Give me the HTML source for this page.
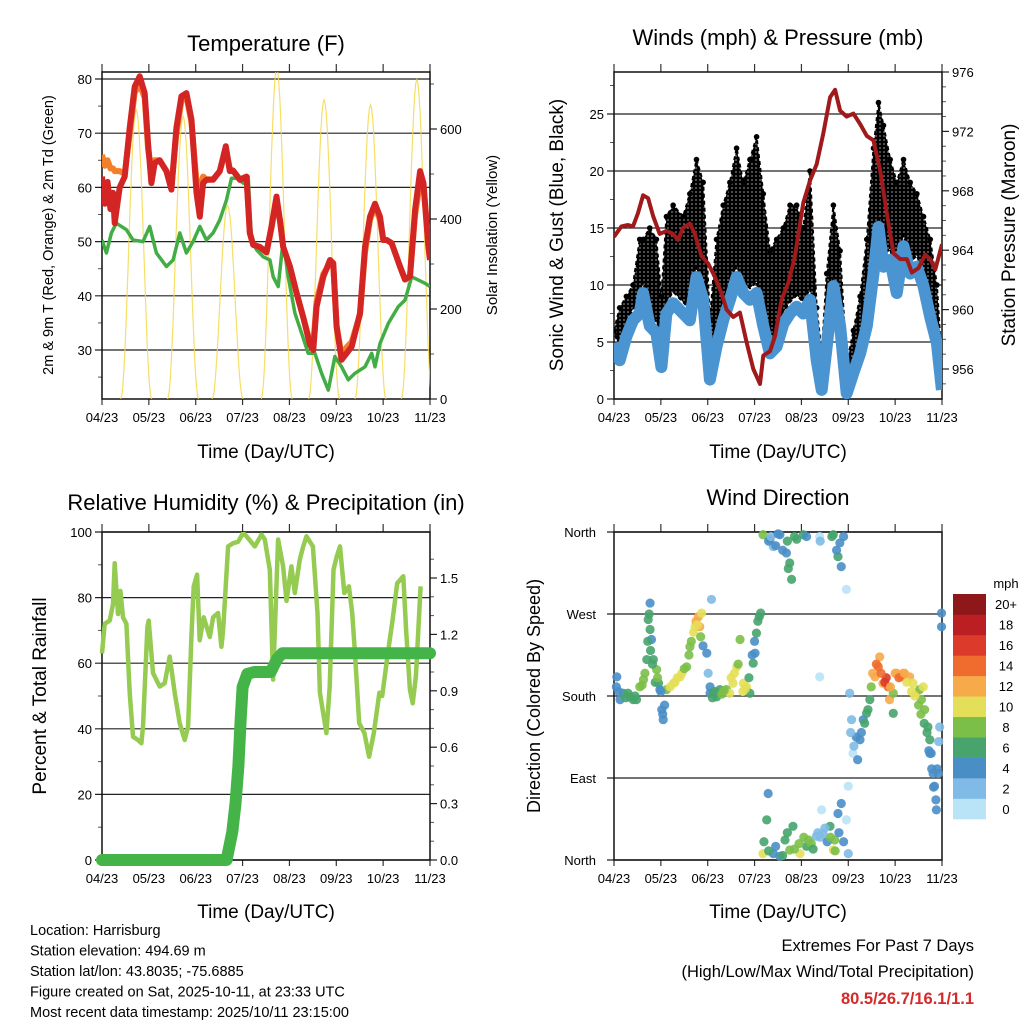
<!DOCTYPE html>
<html><head><meta charset="utf-8"><style>
body{margin:0;background:#fff}
svg{display:block;font-family:"Liberation Sans",Arial,sans-serif}
</style></head><body>
<svg id="c" width="1024" height="1024" viewBox="0 0 1024 1024" xmlns="http://www.w3.org/2000/svg">
<defs>
<pattern id="dots" width="4" height="4" patternUnits="userSpaceOnUse"><rect width="4" height="4" fill="#fff"/><circle cx="2" cy="2" r="2.3" fill="#000"/></pattern>
</defs>
<rect width="1024" height="1024" fill="#fff"/>
</svg>
<script>
// ---- Temperature panel data (day offset 0..7) ----
const tTime=[0,.06,.12,.18,.235,.27,.377,.484,.591,.698,.805,.912,.983,1.054,1.125,1.232,1.375,1.481,1.588,1.695,1.802,1.909,2.016,2.087,2.158,2.229,2.372,2.514,2.642,2.728,2.799,2.942,3.084,3.155,3.226,3.369,3.511,3.618,3.725,3.796,3.868,4.01,4.152,4.295,4.437,4.509,4.58,4.722,4.865,4.936,5.007,5.114,5.221,5.328,5.506,5.613,5.719,5.826,5.933,6.004,6.075,6.182,6.36,6.467,6.574,6.681,6.788,6.859,6.966,7];
const tempRed=[62,57,61,56,59,53.4,60,62,71,78.6,80.5,77.4,68,60.8,64.5,65,63,59.6,71,76.8,77.4,72.5,59,54.6,60.8,61.4,61.4,63,67.6,63,63.1,61.4,62,51.6,49.4,49,48,52.8,58.3,54,49,45.4,40.5,36,31,30,38,43.5,46.6,46,34.3,28.2,29.4,30.6,36.8,49,54.6,57,54.6,50.3,50.3,49.7,45.4,43,43.6,55.9,63,60.8,49,46.6];
const tempOrange=[66,64,65,63.5,63.5,63,63,62.5,70,77.5,79,76.5,67,63.5,65,65,63,60,70,76,76.8,72,61,60,62,61.5,61.5,63,67,63.5,63,61.5,62,51.6,49.4,49,48,52.5,57.5,54,49,45.4,40.5,36,31.5,31,39,44,46,45.5,34.5,29,30.5,31.5,36.5,48,54,56.5,54,50.3,50.3,49.7,45.4,43,43.6,55,61,60.8,49.5,47];
const tdTime=[0,.093,.2,.306,.52,.662,.876,1.018,1.161,1.375,1.517,1.66,1.802,1.944,2.087,2.229,2.372,2.514,2.657,2.764,2.871,3.013,3.12,3.191,3.298,3.44,3.583,3.654,3.76,3.867,3.974,4.117,4.259,4.401,4.544,4.687,4.829,4.971,5.114,5.256,5.399,5.612,5.755,5.826,5.933,6.11,6.324,6.467,6.609,6.752,6.894,7];
const tempDew=[50.3,47.9,51.6,53.4,52.2,50.3,50,52.8,47.9,45.4,46.6,51.6,47.9,50,52.8,50.3,51.6,54,57.7,61.7,61.7,60.8,62,50.3,48.5,47.2,46.6,43.5,41.7,50.3,43.5,36.8,33.1,29.4,29.4,25.7,22.6,28.8,26.9,24.5,25.7,26.9,29.4,26.9,31.2,34.9,38,39.2,43.5,42.9,42.3,41.7];
const solarNoon=[.73,1.73,2.68,3.73,4.74,5.73,6.72];
const solarPeak=[643,628,430,735,665,654,710];
const tempTicks=[30,40,50,60,70,80];
const solarTicks=[0,200,400,600];
const dayLabels=["04/23","05/23","06/23","07/23","08/23","09/23","10/23","11/23"];
// ---- Wind panel data ----
const wTime=[0,.121,.264,.406,.549,.62,.763,.905,1.012,1.119,1.262,1.475,1.618,1.76,1.903,2.046,2.188,2.331,2.473,2.616,2.758,2.901,3.043,3.186,3.328,3.471,3.613,3.756,3.898,4.041,4.183,4.326,4.433,4.54,4.682,4.825,4.967,5.11,5.252,5.395,5.538,5.644,5.751,5.894,6.036,6.179,6.321,6.464,6.606,6.749,6.891,6.998];
const windSonic=[4.9,3.4,5.5,6.9,7.5,9.3,6.4,5.8,2.8,7.5,8.4,7.5,6.9,10.7,8.7,1.7,4.6,6.9,8.7,10.7,9.3,8.7,9.3,6.4,4,4.6,6.6,7.5,8.1,7.5,8.7,3.4,.8,4.6,9.9,6.4,.5,2.3,4,6.4,11,15.1,11.6,12.2,9.3,13.4,11,11.6,9.9,7.2,4.9,.8];
const windGust=[6,8,9,10,14,14,15,14,9,16,17,16,18,21,19,7,14,17,19,22,19,21,23,18,13,14,15,17,17,15,20,8,4,11,17,13,3,6,9,14,22,26,24,21,19,21,19,18,16,14,10,3];
const pTime=[0,.157,.299,.406,.513,.62,.727,.834,.976,1.119,1.262,1.369,1.475,1.618,1.725,1.867,2.01,2.153,2.295,2.402,2.545,2.687,2.83,2.972,3.115,3.186,3.329,3.436,3.578,3.72,3.863,4.041,4.184,4.326,4.469,4.611,4.718,4.825,4.967,5.11,5.252,5.395,5.537,5.68,5.822,5.965,6.107,6.25,6.357,6.5,6.642,6.749,6.856,7];
const pressure=[964.9,965.6,965.7,965.6,966.5,967.7,967.5,966.3,965.1,965.3,965.1,964.7,965.5,965.8,965.1,963.6,963.1,962.2,961.1,960,959.5,959.8,957.8,956,955,956.9,957.2,958.2,960.7,961.8,963.6,967.2,968.7,969.8,971.9,974.3,974.8,973.4,973,973.2,972.5,971.7,971.4,969.4,966.5,963.8,963.4,963.4,962.5,962.8,963.7,963.4,962.7,964.4];
const windTicks=[0,5,10,15,20,25];
const presTicks=[956,960,964,968,972,976];
// ---- RH / precipitation ----
const rhTime=[0,.057,.164,.235,.27,.342,.392,.449,.52,.591,.662,.769,.84,.876,.968,.996,1.089,1.231,1.338,1.445,1.552,1.659,1.766,1.837,1.908,1.958,2.029,2.086,2.171,2.3,2.371,2.478,2.549,2.585,2.692,2.799,2.905,3.012,3.083,3.261,3.403,3.474,3.581,3.652,3.759,3.866,3.937,4.043,4.115,4.222,4.293,4.364,4.5,4.6,4.65,4.72,4.79,4.86,4.94,5.01,5.08,5.17,5.27,5.34,5.4,5.49,5.6,5.7,5.8,5.92,5.98,6.1,6.2,6.3,6.43,6.49,6.57,6.63,6.7,6.8];
const rhValues=[63,72,73,78,90.5,75,82,74,72,51,37.6,36.6,35.6,40.7,71,73,57,52.9,53.9,62,51,41.7,36.6,40.7,68,83.4,87,67,74,68,74,75.3,65,70,95.6,96.6,97,99.7,98.7,95.6,99.2,97.7,88.5,55,97.7,89.5,79,89.5,81.4,91.6,95.6,98.7,95.6,75.3,51,44.8,38.7,52.9,88.5,92.6,95.6,81.4,83.4,75.3,63,41.7,38.7,31.5,38.7,51,50,63,73,84.4,86.5,70.2,52,47.8,56,83.4];
const rainTime=[0,2.66,2.7,2.78,2.85,2.91,2.96,3.0,3.1,3.25,3.6,3.74,3.85,7];
const rainTotal=[0,0,.05,.15,.3,.5,.75,.92,.99,1.0,1.0,1.07,1.1,1.1];
const rhTicks=[0,20,40,60,80,100];
const rainTicks=[0,.3,.6,.9,1.2,1.5];
// ---- Wind direction ----
const dirTime=[.06,.13,.2,.34,.41,.48,.55,.63,.7,.73,.77,.8,.84,.91,.95,.98,1.02,1.05,.77,1.12,1.27,1.41,1.55,1.62,1.73,1.8,1.87,1.83,1.98,2.01,2.05,2.12,2.19,2.26,2.4,2.47,2.54,2.62,2.69,2.76,2.83,2.9,2.97,3.01,3.04,3.1,3.13,2.08,3.18,3.33,3.4,3.54,3.68,3.75,3.79,3.9,4.04,4.11,4.39,4.68,4.82,4.78,4.85,4.96,3.18,3.26,3.29,3.4,3.54,3.65,3.75,3.82,3.97,4.11,4.21,4.32,4.46,4.61,4.68,4.71,4.78,4.85,4.96,5.0,5.0,4.43,5.03,5.07,5.1,5.17,5.25,5.32,5.39,5.46,5.49,5.57,5.64,5.67,5.74,5.81,5.85,5.88,5.96,5.96,6.03,6.13,6.17,6.31,6.38,6.45,6.52,6.56,6.6,6.63,6.7,6.74,6.77,6.81,6.84,6.87,6.88,6.74,6.92,6.95,6.99,6.99,4.39,
 .05,.1,.25,.3,.45,.6,.66,.72,.75,.78,.82,.88,.93,1.0,1.04,1.08,1.2,1.3,1.35,1.45,1.5,1.6,1.65,1.7,1.75,1.78,1.85,1.9,2.05,2.1,2.15,2.3,2.35,2.5,2.57,2.65,2.75,2.8,2.88,2.95,3.0,3.07,3.3,3.35,3.45,3.5,3.6,3.7,3.72,3.85,4.4,4.65,4.75,4.9,3.2,3.3,3.45,3.6,3.7,3.85,3.95,4.05,4.15,4.25,4.35,4.4,4.5,4.55,4.62,4.72,4.8,4.9,5.05,5.12,5.2,5.28,5.35,5.42,5.52,5.6,5.7,5.78,5.9,6.0,6.08,6.2,6.25,6.35,6.42,6.5,6.55,6.62,6.68,6.72,6.78,6.82,6.9,6.93];
const dirDeg=[201,176,183,179,176,176,190,198,220,264,253,242,220,209,194,187,165,154,282,187,194,201,212,234,256,267,271,256,227,205,183,183,179,187,187,183,194,212,242,194,190,183,216,227,249,267,271,286,357,352,344,357,337,326,308,352,357,355,355,357,348,333,322,297,7,44,73,7,4,22,11,37,7,15,18,26,29,37,11,22,51,62,44,7,81,55,183,154,117,135,132,154,161,176,190,201,212,223,194,200,190,176,183,161,205,201,205,201,194,183,187,176,190,165,146,132,117,95,81,66,55,117,95,146,256,271,201,
 190,185,178,183,180,192,205,240,270,230,215,195,200,185,160,170,190,195,200,205,210,225,240,250,262,258,245,235,190,178,185,182,186,200,205,215,185,188,200,225,240,262,350,355,345,358,340,350,320,355,350,355,340,355,20,10,15,5,30,12,18,25,22,12,30,25,35,20,25,10,30,20,140,125,110,140,150,165,205,215,205,195,190,205,200,205,195,185,180,170,160,150,140,120,100,80,100,130];
const dirSpeed=[4,4,6,6,6,6,8,8,6,6,6,5,6,8,6,4,4,4,4,8,10,10,8,8,10,12,10,13,4,2,4,6,6,6,8,10,10,10,8,10,10,6,6,4,6,6,7,2,8,4,2,4,4,6,6,6,6,4,1,6,4,6,4,1,10,6,4,4,4,6,8,6,10,6,8,2,2,6,10,8,4,4,1,2,1,1,2,2,1,4,4,4,6,6,8,12,14,12,12,16,14,12,8,6,12,14,12,12,10,10,8,8,10,8,6,6,4,4,4,4,4,4,4,2,4,4,1,
 4,4,6,6,6,8,8,6,6,6,6,6,8,4,4,4,10,10,10,10,8,8,8,10,12,10,8,4,4,6,6,8,8,10,10,8,10,10,6,4,4,6,4,2,4,4,4,6,6,6,2,6,4,4,6,6,4,6,6,8,8,8,8,6,2,2,2,4,8,8,4,4,2,2,4,4,6,6,12,14,14,16,12,12,14,12,10,10,10,8,8,6,6,4,4,4,4,2];
const speedLabels=["0","2","4","6","8","10","12","14","16","18","20+"];
const speedColors=["#b9e3f7","#7fbbe6","#4a8ec6","#46a46c","#7bbf48","#e4df58","#f6aa4a","#ef6c2e","#dc3a2a","#bb1f24","#8d1719"];

const NS="http://www.w3.org/2000/svg";
const svg=document.getElementById('c');
function el(tag,attrs,parent){const e=document.createElementNS(NS,tag);for(const k in attrs)e.setAttribute(k,attrs[k]);(parent||svg).appendChild(e);return e;}
function lin(d0,d1,r0,r1){return v=>r0+(v-d0)*(r1-r0)/(d1-d0);}
function pathOf(xs,ys,fx,fy){return xs.map((t,i)=>(i?'L':'M')+fx(t).toFixed(1)+','+fy(ys[i]).toFixed(1)).join('');}
function txt(x,y,s,size,anchor,parent,extra){const t=el('text',Object.assign({x:x,y:y,'font-size':size,'text-anchor':anchor||'middle',fill:'#000'},extra||{}),parent);t.textContent=s;return t;}

function frame(g,L,R,T,B,fy,ticks,fyr,rticks,rminor,lminor,fx){
  ticks.forEach(v=>{const l=el('line',{x1:L-7,x2:R,y1:fy(v),y2:fy(v),stroke:'#222','stroke-width':1.2},g);
    
    });
  lminor.forEach(v=>el('line',{x1:L-4,x2:L,y1:fy(v),y2:fy(v),stroke:'#555','stroke-width':1},g));
  if(fyr){rticks.forEach(v=>el('line',{x1:R,x2:R+7,y1:fyr(v),y2:fyr(v),stroke:'#222','stroke-width':1.2},g));
    rminor.forEach(v=>el('line',{x1:R,x2:R+4,y1:fyr(v),y2:fyr(v),stroke:'#555','stroke-width':1},g));}
  for(let d=0;d<=7;d++){const x=fx(d);el('line',{x1:x,x2:x,y1:T-8,y2:T,stroke:'#333','stroke-width':1.2},g);el('line',{x1:x,x2:x,y1:B,y2:B+6,stroke:'#333','stroke-width':1.2},g);
    const t=txt(x,B+23,dayLabels[d],13,'middle',g);
    
    }
  el('rect',{x:L,y:T,width:R-L,height:B-T,fill:'none',stroke:'#111','stroke-width':1.5},g);
}

// ===== Panel 1: Temperature =====
(function(){
  const g=el('g',{});
  
  
  const L=102,R=430,T=72,B=399;
  const fx=lin(0,7,L,R), fy=lin(30,80,350,79), fs=lin(0,600,399,129);
  const lm=[];for(let v=25;v<=80;v+=5)if(v%10)lm.push(v);
  const rm=[];for(let v=100;v<=700;v+=100)if(v%200)rm.push(v);
  frame(g,L,R,T,B,fy,tempTicks,fs,solarTicks,rm,lm,fx);
  tempTicks.forEach(v=>txt(L-10,fy(v)+5,String(v),13,'end',g));
  solarTicks.forEach(v=>txt(R+10,fs(v)+5,String(v),13,'start',g));
  const cp=el('clipPath',{id:'cp1'},g);el('rect',{x:L,y:T,width:R-L,height:B-T},cp);
  const pg=el('g',{'clip-path':'url(#cp1)'},g);
  solarNoon.forEach((n,i)=>{const xs=[],ys=[];for(let k=0;k<=30;k++){const t=n-0.33+k*0.66/30;xs.push(t);ys.push(solarPeak[i]*Math.pow(Math.sin(Math.PI*k/30),2));}
    const p=el('path',{d:pathOf(xs,ys,fx,fs),fill:'none',stroke:'#f6d84a','stroke-width':1.2,opacity:.85},pg);
    
    });
  const o=el('path',{d:pathOf(tTime,tempOrange,fx,fy),fill:'none',stroke:'#f47f2a','stroke-width':6,'stroke-linejoin':'round'},pg);
  
  
  const d=el('path',{d:pathOf(tdTime,tempDew,fx,fy),fill:'none',stroke:'#43ad45','stroke-width':3.5,'stroke-linejoin':'round'},pg);
  
  
  const r=el('path',{d:pathOf(tTime,tempRed,fx,fy),fill:'none',stroke:'#d42525','stroke-width':6,'stroke-linejoin':'round'},pg);
  
  
  const t1=txt((L+R)/2,51,'Temperature (F)',22,'middle',g);
  
  
  const xt=txt((L+R)/2,458,'Time (Day/UTC)',19,'middle',g);
  
  
  const yl=txt(0,0,'2m & 9m T (Red, Orange) & 2m Td (Green)',14.5,'middle',g,{transform:'translate(53,235) rotate(-90)'});
  
  
  const yr=txt(0,0,'Solar Insolation (Yellow)',15,'middle',g,{transform:'translate(497,235) rotate(-90)'});
  
  
})();

// ===== Panel 2: Winds & Pressure =====
(function(){
  const g=el('g',{});
  
  
  const L=614,R=942,T=72,B=399;
  const fx=lin(0,7,L,R), fy=lin(0,25,399,114), fp=lin(956,976,369,72);
  const lm=[2.5,7.5,12.5,17.5,22.5,27.5];
  const rm=[];for(let v=955;v<=976;v++)if((v-956)%4)rm.push(v);
  frame(g,L,R,T,B,fy,windTicks,fp,presTicks,rm,lm,fx);
  windTicks.forEach(v=>txt(L-10,fy(v)+5,String(v),13,'end',g));
  presTicks.forEach(v=>txt(R+10,fp(v)+5,String(v),13,'start',g));
  const cp=el('clipPath',{id:'cp2'},g);el('rect',{x:L,y:T-2,width:R-L,height:B-T+2},cp);
  const pg=el('g',{'clip-path':'url(#cp2)'},g);
  let band=pathOf(wTime,windGust,fx,fy);
  const rev=wTime.slice().reverse(), revS=windSonic.slice().reverse().map(v=>v+1);
  band+=rev.map((t,i)=>'L'+fx(t).toFixed(1)+','+fy(revS[i]).toFixed(1)).join('')+'Z';
  const gb=el('path',{d:band,fill:'url(#dots)',stroke:'#000','stroke-width':2,'stroke-dasharray':'4 3','stroke-linejoin':'round'},pg);
  
  
  wTime.forEach((t,i)=>{const c=el('circle',{cx:fx(t),cy:fy(windGust[i]),r:2.8,fill:'#000'},pg);
    
    });
  const b=el('path',{d:pathOf(wTime,windSonic,fx,fy),fill:'none',stroke:'#4a94d2','stroke-width':12,'stroke-linejoin':'round'},pg);
  
  
  const p=el('path',{d:pathOf(pTime,pressure,fx,fp),fill:'none',stroke:'#a01a1c','stroke-width':4,'stroke-linejoin':'round'},pg);
  
  
  const t1=txt((L+R)/2,45,'Winds (mph) & Pressure (mb)',22,'middle',g);
  
  
  const xt=txt((L+R)/2,458,'Time (Day/UTC)',19,'middle',g);
  
  
  const yl=txt(0,0,'Sonic Wind & Gust (Blue, Black)',19,'middle',g,{transform:'translate(563,235) rotate(-90)'});
  
  
  const yr=txt(0,0,'Station Pressure (Maroon)',19,'middle',g,{transform:'translate(1015,235) rotate(-90)'});
  
  
})();

// ===== Panel 3: RH & precip =====
(function(){
  const g=el('g',{});
  
  
  const L=102,R=430,T=532,B=860;
  const fx=lin(0,7,L,R), fy=lin(0,100,860,532), fr=lin(0,1.5,860,578);
  const lm=[10,30,50,70,90];
  const rm=[];for(let v=0.1;v<1.7;v+=0.1){const r=Math.round(v*10);if(r%3)rm.push(r/10);}
  frame(g,L,R,T,B,fy,rhTicks,fr,rainTicks,rm,lm,fx);
  rhTicks.forEach(v=>txt(L-10,fy(v)+5,String(v),13,'end',g));
  rainTicks.forEach(v=>txt(R+10,fr(v)+5,v.toFixed(1),13,'start',g));
  const cp=el('clipPath',{id:'cp3'},g);el('rect',{x:L-8,y:T,width:R-L+16,height:B-T+8},cp);
  const pg=el('g',{'clip-path':'url(#cp3)'},g);
  const rh=el('path',{d:pathOf(rhTime,rhValues,fx,fy),fill:'none',stroke:'#94cb50','stroke-width':4.5,'stroke-linejoin':'round'},pg);
  
  
  const pr=el('path',{d:pathOf(rainTime,rainTotal,fx,fr),fill:'none',stroke:'#45b448','stroke-width':12,'stroke-linejoin':'round','stroke-linecap':'round'},pg);
  
  
  const t1=txt((L+R)/2+0,510,'Relative Humidity (%) & Precipitation (in)',22,'middle',g);
  
  
  const xt=txt((L+R)/2,918,'Time (Day/UTC)',19,'middle',g);
  
  
  const yl=txt(0,0,'Percent & Total Rainfall',19,'middle',g,{transform:'translate(46,696) rotate(-90)'});
  
  
})();

// ===== Panel 4: Wind direction =====
(function(){
  const g=el('g',{});
  
  
  const L=614,R=942,T=532,B=860;
  const fx=lin(0,7,L,R), fy=lin(0,360,860,532);
  const dticks=[0,90,180,270,360], dnames=['North','East','South','West','North'];
  frame(g,L,R,T,B,fy,dticks,null,[],[],[],fx);
  dticks.forEach((v,i)=>txt(L-18,fy(v)+5,dnames[i],13,'end',g));
  dirTime.forEach((t,i)=>{const bin=Math.min(10,Math.floor(dirSpeed[i]/2));
    const c=el('circle',{cx:fx(t),cy:fy(dirDeg[i]),r:4.6,fill:speedColors[bin],opacity:.9},g);
    
    });
  const cb=el('g',{},g);
  
  
  const h=225/11;
  speedColors.forEach((col,i)=>{const y=819-(i+1)*h;el('rect',{x:953,y:y,width:33,height:h+0.3,fill:col},cb);
    txt(1006,y+h/2+5,speedLabels[i],13,'middle',cb);});
  txt(1006,588,'mph',13,'middle',cb);
  const t1=txt((L+R)/2,505,'Wind Direction',22,'middle',g);
  
  
  const xt=txt((L+R)/2,918,'Time (Day/UTC)',19,'middle',g);
  
  
  const yl=txt(0,0,'Direction (Colored By Speed)',18,'middle',g,{transform:'translate(540,696) rotate(-90)'});
  
  
})();

// ===== footer =====
(function(){
  const g=el('g',{});
  
  
  ['Location: Harrisburg','Station elevation: 494.69 m','Station lat/lon: 43.8035; -75.6885','Figure created on Sat, 2025-10-11, at 23:33 UTC','Most recent data timestamp: 2025/10/11 23:15:00'].forEach((s,i)=>txt(30,935+i*20.5,s,14.5,'start',g));
  const h=el('g',{});
  
  
  txt(974,951,'Extremes For Past 7 Days',16.5,'end',h);
  txt(974,977,'(High/Low/Max Wind/Total Precipitation)',16.5,'end',h);
  txt(974,1004,'80.5/26.7/16.1/1.1',16.5,'end',h,{fill:'#d42a2a','font-weight':'bold'});
})();
</script>
</body></html>
